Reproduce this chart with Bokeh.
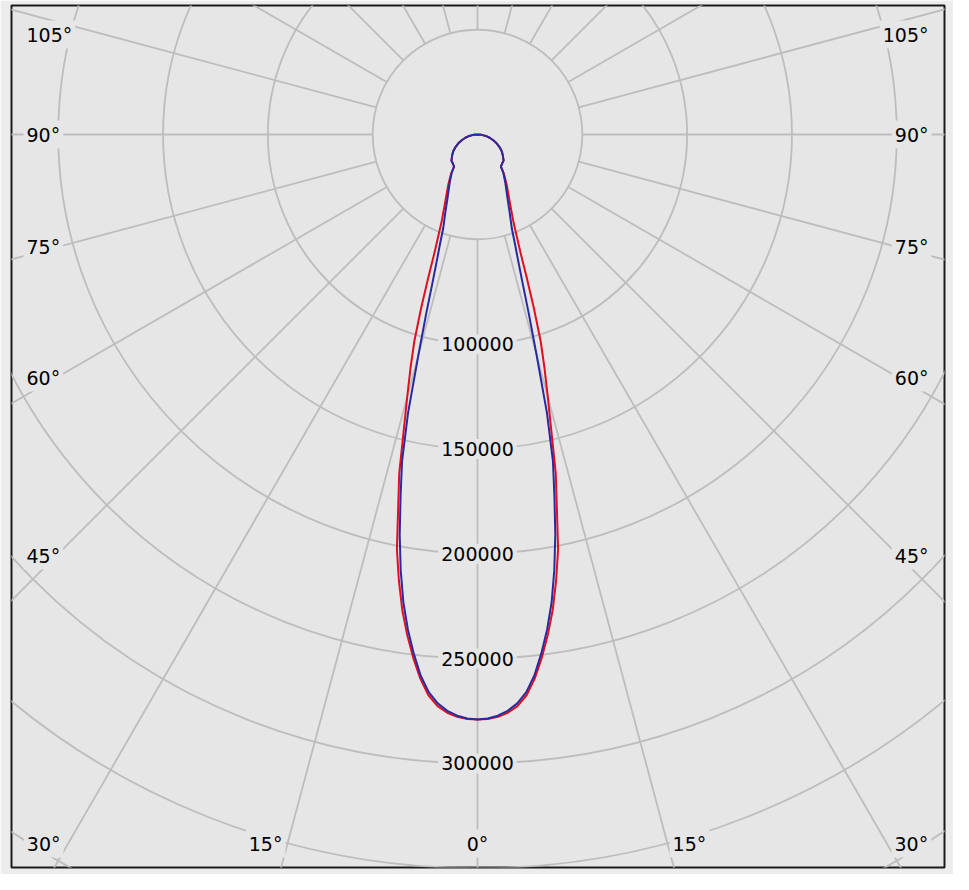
import numpy as np
from bokeh.plotting import figure
from bokeh.models import Range1d, Label
from bokeh.embed import file_html
from bokeh.resources import INLINE

# ---- data (gamma angle in degrees, intensity in cd) ----
gamma_deg = [0, 1, 2, 3, 4, 5, 6, 7, 8, 9, 10, 11, 12, 13, 14, 15, 16, 17, 18, 19, 20,
             22.5, 25, 30, 34, 36, 40, 45, 50, 55, 60, 65, 70, 75, 80, 85, 90]
red_cd = [279000, 278800, 277900, 276200, 273300, 268500, 261000, 251500, 241000,
          229500, 216000, 201500, 182000, 166000, 145500, 129500, 116000, 103000,
          87000, 72000, 60000, 44500, 37000, 28000, 22500, 19000, 18200, 17600,
          15800, 14200, 12200, 10200, 8000, 6000, 4000, 2000, 0]
blue_cd = [279000, 278600, 277400, 275300, 272000, 267000, 259500, 249500, 238500,
           226000, 211000, 194500, 176500, 160000, 137000, 109000, 88500, 72500,
           62000, 54500, 48000, 40000, 34000, 26500, 22000, 19000, 18200, 17600,
           15800, 14200, 12200, 10200, 8000, 6000, 4000, 2000, 0]

ring_values = [50000, 100000, 150000, 200000, 250000, 300000, 350000, 400000]
ring_labels = ["100000", "150000", "200000", "250000", "300000"]
ring_label_values = [100000, 150000, 200000, 250000, 300000]
spoke_angles = list(range(0, 360, 15))
angle_label_values = [0, 15, 30, 45, 60, 75, 90, 105]

# ---- layout constants ----
PX = 477.0            # cd per screen pixel
FS = 19               # label font size in px
FONT = "DejaVu Sans"
GRID = "#bdbdbd"
BG = "#e6e6e6"

p = figure(width=953, height=874, output_backend="svg", toolbar_location=None,
           x_axis_type=None, y_axis_type=None,
           x_range=Range1d(-466 * PX, 467 * PX), y_range=Range1d(-733 * PX, 129 * PX),
           min_border_left=11, min_border_right=9, min_border_top=5, min_border_bottom=7)
p.grid.visible = False
p.background_fill_color = BG
p.border_fill_color = "#ececec"
p.outline_line_color = "#1a1a1a"
p.outline_line_width = 2

# rings
p.circle(x=[0] * len(ring_values), y=[0] * len(ring_values), radius=ring_values,
         fill_color=None, line_color=GRID, line_width=1.8)

# spokes (from the first ring outwards)
r0, r1 = ring_values[0], 700000
th = np.radians(spoke_angles)
xs = [[r0 * np.sin(t), r1 * np.sin(t)] for t in th]
ys = [[-r0 * np.cos(t), -r1 * np.cos(t)] for t in th]
p.multi_line(xs=xs, ys=ys, line_color=GRID, line_width=1.8)


def closed_curve(vals):
    g = np.radians(np.array(gamma_deg, dtype=float))
    v = np.array(vals, dtype=float)
    xr, yr = v * np.sin(g), -v * np.cos(g)
    # right half from 90 down to 0, then left half from 0 up to 90
    x = np.concatenate([xr[::-1], -xr[1:]])
    y = np.concatenate([yr[::-1], yr[1:]])
    return x, y


xr_, yr_ = closed_curve(red_cd)
p.line(xr_, yr_, line_color="#e01020", line_width=2, line_join="round")
xb_, yb_ = closed_curve(blue_cd)
p.line(xb_, yb_, line_color="#2a2aa0", line_width=2, line_join="round")


def add_label(x_px, y_px, text, align):
    p.add_layout(Label(x=x_px * PX, y=y_px * PX, text=text, text_align=align,
                       text_baseline="middle", text_font=FONT,
                       text_font_size=f"{FS}px", text_color="black",
                       background_fill_color=BG, background_fill_alpha=1.0,
                       padding=3))


# ring labels along the 0 degree spoke
for v, t in zip(ring_label_values, ring_labels):
    add_label(0, -v / PX, t, "center")


def text_w(s):
    return FS * (0.636 * sum(c.isdigit() for c in s) + 0.5 * ("°" in s))


SIDE = 421      # px from centre to inner edge of side labels
BOT_C = 709     # px below centre: bottom label centre
BOT_E = 717     # px below centre: bottom label lower edge
LIM_X = 454     # px from centre: outer edge limit
LIM_TOP = 100   # px above centre: highest label centre

for a in angle_label_values:
    s = f"{a}°"
    g = np.radians(a)
    if a == 0:
        add_label(0, -BOT_C, s, "center")
        continue
    y_side = -SIDE * np.cos(g) / np.sin(g)
    for sign in (-1, 1):
        if y_side >= -BOT_C:
            y = min(y_side, LIM_TOP)
            inner = sign * SIDE
            outer = inner + sign * text_w(s)
            if abs(outer) > LIM_X:
                add_label(sign * LIM_X, y, s, "left" if sign < 0 else "right")
            else:
                add_label(inner, y, s, "right" if sign < 0 else "left")
        else:
            inner = sign * BOT_E * np.tan(g)
            add_label(inner, -BOT_C, s, "right" if sign < 0 else "left")

open("out.html", "w").write(file_html(p, INLINE))
